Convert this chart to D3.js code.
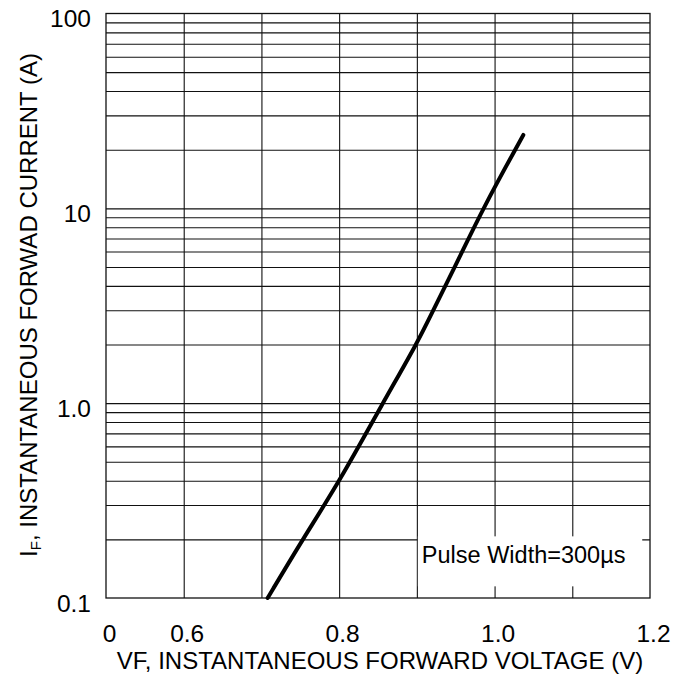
<!DOCTYPE html>
<html>
<head>
<meta charset="utf-8">
<script src="https://cdn.jsdelivr.net/npm/d3@7"></script>
<style>
  body { margin: 0; background: #fff; }
  svg { display: block; }
  text { font-family: "Liberation Sans", Arial, sans-serif; fill: #000; }
</style>
</head>
<body>
<svg id="chart"></svg>
<script>
// curve
const vf = [0.708, 0.753, 0.801, 0.856, 0.901, 0.921, 0.949, 0.985, 1.037];
const iF = [0.1, 0.2, 0.4, 1.0, 2.05, 3.0, 5.0, 10, 23.8];

// axis ticks
const xTickValues = [0.5, 0.6, 0.8, 1.0, 1.2];
const xTickLabels = ["0", "0.6", "0.8", "1.0", "1.2"];
const xGridValues = [0.6, 0.7, 0.8, 0.9, 1.0, 1.1];
const yTickValues = [0.1, 1, 10, 100];
const yTickLabels = ["0.1", "1.0", "10", "100"];

const width = 677;
const height = 675;
const margin = {top: 13.5, right: 27, bottom: 77, left: 106};
const w = width - margin.left - margin.right;
const h = height - margin.top - margin.bottom;
const fs = 23.5;

const svg = d3.select('#chart').attr('width', width).attr('height', height);
const g = svg.append('g').attr('transform', `translate(${margin.left},${margin.top})`);

const x = d3.scaleLinear().domain([0.5, 1.2]).range([0, w]);
const y = d3.scaleLog().domain([0.1, 100]).range([h, 0]);

// minor log grid: 1..9 in every decade
const yGridValues = [];
[0.1, 1, 10].forEach(function (d) {
    for (let k = 2; k <= 9; k++) yGridValues.push(d * k);
});
yGridValues.push(1, 10);

// horizontal grid
g.append('g')
    .attr('class', 'ygrid')
    .call(d3.axisLeft(y).tickValues(yGridValues).tickSize(-w).tickFormat(''))
    .call(s => s.select('.domain').remove())
    .selectAll('line').attr('stroke', '#111').attr('stroke-width', 1.1);

// vertical grid
g.append('g')
    .attr('class', 'xgrid')
    .attr('transform', `translate(0,${h})`)
    .call(d3.axisBottom(x).tickValues(xGridValues).tickSize(-h).tickFormat(''))
    .call(s => s.select('.domain').remove())
    .selectAll('line').attr('stroke', '#111').attr('stroke-width', 1.1);

// pulse width note, on a white patch over the grid
const noteX = x(0.9);
g.append('rect')
    .attr('x', noteX + 1)
    .attr('y', y(0.2) - 3)
    .attr('width', x(1.19) - noteX - 1)
    .attr('height', 50)
    .attr('fill', '#fff');

// frame
g.append('rect')
    .attr('width', w).attr('height', h)
    .attr('fill', 'none')
    .attr('stroke', '#111')
    .attr('stroke-width', 1.3);

g.append('text')
    .attr('x', noteX + 5)
    .attr('y', y(0.2) + 24)
    .attr('font-size', fs)
    .text('Pulse Width=300µs');

// forward characteristic
const pts = vf.map((v, i) => [v, iF[i]]);
g.append('path')
    .datum(pts)
    .attr('fill', 'none')
    .attr('stroke', '#000')
    .attr('stroke-width', 4)
    .attr('stroke-linecap', 'round')
    .attr('stroke-linejoin', 'round')
    .attr('d', d3.line().x(d => x(d[0])).y(d => y(d[1])).curve(d3.curveBasis));

// x axis labels
g.append('g')
    .attr('transform', `translate(0,${h})`)
    .call(d3.axisBottom(x).tickValues(xTickValues).tickSize(0).tickPadding(27)
        .tickFormat((d, i) => xTickLabels[i]))
    .call(s => s.select('.domain').remove())
    .selectAll('text')
    .attr('font-size', 24.5)
    .attr('dx', 3)
    .attr('font-family', '"Liberation Sans", Arial, sans-serif');

// y axis labels
g.append('g')
    .call(d3.axisLeft(y).tickValues(yTickValues).tickSize(0).tickPadding(15)
        .tickFormat((d, i) => yTickLabels[i]))
    .call(s => s.select('.domain').remove())
    .selectAll('text')
    .attr('font-size', 24.5)
    .attr('dy', '0.55em')
    .attr('font-family', '"Liberation Sans", Arial, sans-serif');

// axis titles
svg.append('text')
    .attr('x', margin.left + w / 2 + 2)
    .attr('y', 669)
    .attr('text-anchor', 'middle')
    .attr('font-size', 24)
    .text('VF, INSTANTANEOUS FORWARD VOLTAGE (V)');

const yTitle = svg.append('text')
    .attr('transform', 'translate(37,305) rotate(-90)')
    .attr('text-anchor', 'middle')
    .attr('font-size', 24);
yTitle.append('tspan').text('I');
yTitle.append('tspan').attr('font-size', 15).attr('dy', 4).text('F');
yTitle.append('tspan').attr('dy', -4).text(', INSTANTANEOUS FORWAD CURRENT (A)');
</script>
</body>
</html>
